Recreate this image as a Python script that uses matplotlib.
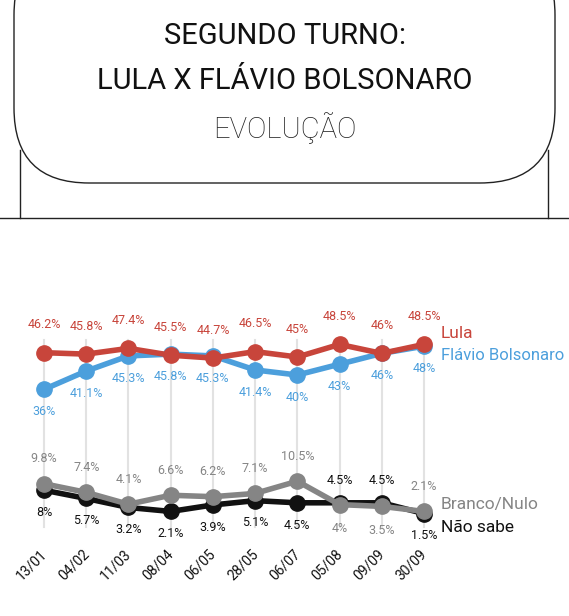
import matplotlib
matplotlib.use("Agg")
import matplotlib.pyplot as plt
from matplotlib.patches import FancyBboxPatch

plt.rcParams['font.family'] = ['Roboto', 'DejaVu Sans']

DATES = ["13/01", "04/02", "11/03", "08/04", "06/05", "28/05", "06/07", "05/08", "09/09", "30/09"]
LULA = [46.2, 45.8, 47.4, 45.5, 44.7, 46.5, 45, 48.5, 46, 48.5]
FLAVIO = [36, 41.1, 45.3, 45.8, 45.3, 41.4, 40, 43, 46, 48]
BRANCO = [9.8, 7.4, 4.1, 6.6, 6.2, 7.1, 10.5, 4, 3.5, 2.1]
NAOSABE = [8, 5.7, 3.2, 2.1, 3.9, 5.1, 4.5, 4.5, 4.5, 1.5]

RED, BLUE, GRAY, BLACK = "#c8453b", "#4c9fdc", "#858585", "#111111"
W, H = 569, 616

fig = plt.figure(figsize=(W / 100, H / 100), dpi=100)

# header box
hdr = fig.add_axes([0, 0, 1, 1])
hdr.set_xlim(0, W); hdr.set_ylim(H, 0); hdr.axis("off")
hdr.add_patch(FancyBboxPatch((14, -60), 541, 243, boxstyle="round,pad=0,rounding_size=75",
                             fc="white", ec="#222222", lw=1.0, zorder=2))
hdr.plot([20, 20], [150, 218], color="#222222", lw=1.0, zorder=1)
hdr.plot([548, 548], [150, 218], color="#222222", lw=1.0, zorder=1)
hdr.plot([0, W], [218, 218], color="#222222", lw=1.0, zorder=1)
hdr.text(285, 36, "SEGUNDO TURNO:", ha="center", va="center", fontsize=21, color="#111", zorder=3)
hdr.text(285, 81, "LULA X FLÁVIO BOLSONARO", ha="center", va="center", fontsize=21, color="#111", zorder=3)
hdr.text(285, 128, "EVOLUÇÃO", ha="center", va="center", fontsize=21, color="#222",
         fontweight="light", zorder=3)

# chart
px = 3.6  # pixels per point
y0 = 519
ytop = 340
ax = fig.add_axes([44 / W, (H - y0) / H, (424 - 44) / W, (y0 - ytop) / H])
ax.set_xlim(0, 9); ax.set_ylim(0, (y0 - ytop) / px)
ax.axis("off")
x = range(len(DATES))
for xi in x:
    ax.plot([xi, xi], [-2.3, (y0 - ytop) / px], color="#e2e2e2", lw=1.5, zorder=0, clip_on=False)

series = [(NAOSABE, BLACK), (BRANCO, GRAY), (FLAVIO, BLUE), (LULA, RED)]
for vals, c in series:
    ax.plot(x, vals, color=c, lw=4, marker="o", ms=11, zorder=3, clip_on=False)

def fmt(v):
    return f"{v:g}%"

def lab(xi, v, dy, c):
    ax.annotate(fmt(v), (xi, v), xytext=(0, dy), textcoords="offset points",
                ha="center", va="center", color=c, fontsize=9, clip_on=False)

for i in x:
    lab(i, LULA[i], 20, RED)
    lab(i, FLAVIO[i], -16, BLUE)
    b_up = i not in (7, 8)
    lab(i, BRANCO[i], 18 if b_up else -17, GRAY)
    lab(i, NAOSABE[i], -16 if b_up else 16, BLACK)

ax.set_xticks(list(x))
for i, d in enumerate(DATES):
    ax.annotate(d, (i, 0), xytext=(4, -20), textcoords="offset points", rotation=45,
                ha="right", va="top", fontsize=10, color="#111", annotation_clip=False)

hdr2 = fig.add_axes([0, 0, 1, 1], zorder=5)
hdr2.set_xlim(0, W); hdr2.set_ylim(H, 0); hdr2.axis("off")
hdr2.text(441, 334, "Lula", color=RED, fontsize=12.5, va="center")
hdr2.text(441, 356, "Flávio Bolsonaro", color=BLUE, fontsize=12, va="center")
hdr2.text(441, 505, "Branco/Nulo", color=GRAY, fontsize=12.5, va="center")
hdr2.text(441, 528, "Não sabe", color=BLACK, fontsize=12.5, va="center")

fig.savefig("out.png", dpi=100)
